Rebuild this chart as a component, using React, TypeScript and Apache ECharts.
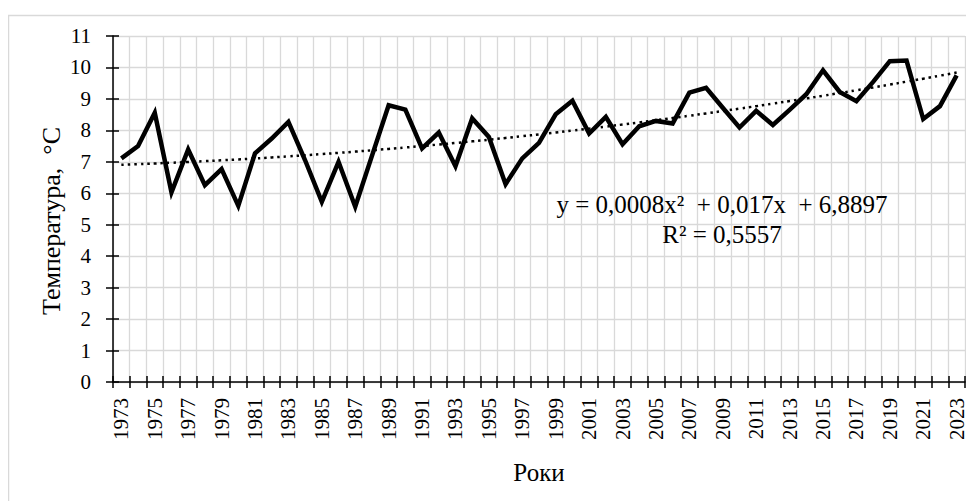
import React, { useEffect, useRef } from "react";
import * as echarts from "echarts";

const years = [
  "1973", "1974", "1975", "1976", "1977", "1978", "1979", "1980", "1981", "1982",
  "1983", "1984", "1985", "1986", "1987", "1988", "1989", "1990", "1991", "1992",
  "1993", "1994", "1995", "1996", "1997", "1998", "1999", "2000", "2001", "2002",
  "2003", "2004", "2005", "2006", "2007", "2008", "2009", "2010", "2011", "2012",
  "2013", "2014", "2015", "2016", "2017", "2018", "2019", "2020", "2021", "2022",
  "2023",
];

const temperatures = [
  7.11, 7.5, 8.56, 6.03, 7.39, 6.26, 6.77, 5.6, 7.27, 7.74,
  8.27, 7.05, 5.73, 7.0, 5.57, 7.19, 8.8, 8.66, 7.43, 7.93,
  6.86, 8.38, 7.79, 6.29, 7.11, 7.6, 8.51, 8.94, 7.9, 8.43,
  7.56, 8.13, 8.3, 8.22, 9.2, 9.35, 8.72, 8.09, 8.62, 8.17,
  8.65, 9.15, 9.91, 9.22, 8.93, 9.54, 10.2, 10.22, 8.36, 8.77,
  9.75,
];

// Polynomial trendline as printed on the chart: y = a x^2 + b x + c, x = 1..n
const trendCoefficients = [0.0008, 0.017, 6.8897];
const equationText = "y = 0,0008x²  + 0,017x  + 6,8897";
const r2Text = "R² = 0,5557";
const yAxisTitle = "Температура,  °C";
const xAxisTitle = "Роки";

const yTicks = { min: 0, max: 11, interval: 1 };

const FONT = "'Liberation Serif', 'Times New Roman', serif";

export default function App() {
  const ref = useRef<HTMLDivElement>(null);

  useEffect(() => {
    if (!ref.current) return;
    const chart = echarts.init(ref.current, null, { renderer: "svg" });
    const [a, b, c] = trendCoefficients;
    const trend = years.map((_, i) => {
      const x = i + 1;
      return +(a * x * x + b * x + c).toFixed(4);
    });

    const grid = { left: 105, top: 28, right: 9, bottom: 119 };

    chart.setOption({
      animation: false,
      backgroundColor: "#fff",
      grid,
      graphic: [
        {
          type: "rect",
          shape: { x: 0.5, y: 7.5, width: 1200, height: 1200 },
          style: { fill: "none", stroke: "#d9d9d9", lineWidth: 1.5 },
          silent: true,
          z: -10,
        },
        {
          type: "text",
          x: 714,
          y: 196,
          style: {
            text: equationText,
            font: `25px ${FONT}`,
            fill: "#000",
            textAlign: "center",
            textVerticalAlign: "middle",
          },
          z: 100,
        },
        {
          type: "text",
          x: 714,
          y: 226,
          style: {
            text: r2Text,
            font: `25px ${FONT}`,
            fill: "#000",
            textAlign: "center",
            textVerticalAlign: "middle",
          },
          z: 100,
        },
        {
          type: "text",
          x: 43,
          y: 213,
          rotation: Math.PI / 2,
          style: {
            text: yAxisTitle,
            font: `26px ${FONT}`,
            fill: "#000",
            textAlign: "center",
            textVerticalAlign: "middle",
          },
          z: 100,
        },
      ],
      xAxis: [
        {
          type: "category",
          data: years,
          boundaryGap: true,
          name: xAxisTitle,
          nameLocation: "middle",
          nameGap: 78,
          nameTextStyle: { fontFamily: FONT, fontSize: 25, color: "#000" },
          axisLine: { show: true, onZero: false, lineStyle: { color: "#000", width: 1.5 } },
          axisTick: { show: true, interval: 0, length: 6, lineStyle: { color: "#000", width: 1.5 } },
          axisLabel: {
            interval: 1,
            rotate: 90,
            margin: 16,
            fontFamily: FONT,
            fontSize: 21,
            color: "#000",
          },
          splitLine: { show: true, interval: 0, lineStyle: { color: "#d9d9d9", width: 1.3 } },
        },
        {
          type: "category",
          data: years,
          boundaryGap: true,
          position: "bottom",
          axisLine: { show: false },
          axisTick: { show: true, inside: true, interval: 0, length: 6, lineStyle: { color: "#000", width: 1.5 } },
          axisLabel: { show: false },
          splitLine: { show: false },
        },
      ],
      yAxis: [
        {
          type: "value",
          min: yTicks.min,
          max: yTicks.max,
          interval: yTicks.interval,
          axisLine: { show: true, lineStyle: { color: "#000", width: 1.5 } },
          axisTick: { show: true, length: 7, lineStyle: { color: "#000", width: 1.5 } },
          axisLabel: { margin: 22, fontFamily: FONT, fontSize: 21, color: "#000" },
          splitLine: { show: true, lineStyle: { color: "#d9d9d9", width: 1.3 } },
        },
        {
          type: "value",
          min: yTicks.min,
          max: yTicks.max,
          interval: yTicks.interval,
          position: "left",
          axisLine: { show: false },
          axisTick: { show: true, inside: true, length: 6, lineStyle: { color: "#000", width: 1.5 } },
          axisLabel: { show: false },
          splitLine: { show: false },
        },
      ],
      series: [
        {
          name: "Температура",
          type: "line",
          data: temperatures,
          xAxisIndex: 0,
          yAxisIndex: 0,
          symbol: "none",
          smooth: false,
          lineStyle: { color: "#000", width: 4.5, join: "miter" },
          z: 5,
        },
        {
          name: "Тренд",
          type: "line",
          data: trend,
          xAxisIndex: 0,
          yAxisIndex: 0,
          symbol: "none",
          smooth: true,
          lineStyle: { color: "#000", width: 2.5, type: [2.5, 4], cap: "butt" },
          z: 4,
        },
      ],
    });

    return () => chart.dispose();
  }, []);

  return <div ref={ref} style={{ width: 966, height: 493 }} />;
}
